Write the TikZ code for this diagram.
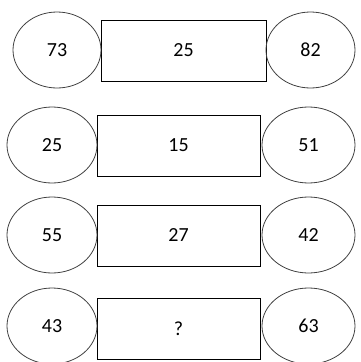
\documentclass[tikz,border=0pt]{standalone}
\usepackage{fontspec}
\setmainfont{Carlito}
\usetikzlibrary{shapes.geometric}
\begin{document}
\begin{tikzpicture}[x=1pt, y=-1pt,
    oval/.style={draw=black!75, line width=0.8pt, ellipse, inner sep=0pt, minimum height=76pt, font=\fontsize{20}{24}\selectfont},
    box/.style={draw=black, line width=1pt, rectangle, inner sep=0pt, minimum height=61pt, font=\fontsize{20}{24}\selectfont}]
      \useasboundingbox (0,0) rectangle (361,362);

      % Row 1
      \node[box, minimum width=165pt] (box1) at (183.5, 50.5) {25};
      \node[oval, minimum width=88pt] (left1) at (57, 50) {73};
      \node[oval, minimum width=89pt] (right1) at (310.5, 50) {82};

      % Row 2
      \node[box, minimum width=163pt] (box2) at (178.5, 145.5) {15};
      \node[oval, minimum width=90pt] (left2) at (52, 145) {25};
      \node[oval, minimum width=93pt] (right2) at (308.5, 145) {51};

      % Row 3
      \node[box, minimum width=163pt] (box3) at (178.5, 235.5) {27};
      \node[oval, minimum width=90pt] (left3) at (52, 235) {55};
      \node[oval, minimum width=93pt] (right3) at (308.5, 235) {42};

      % Row 4
      \node[box, minimum width=163pt] (box4) at (178.5, 328.5) {?};
      \node[oval, minimum width=90pt] (left4) at (52, 326) {43};
      \node[oval, minimum width=93pt] (right4) at (308.5, 326) {63};
    \end{tikzpicture}
\end{document}
